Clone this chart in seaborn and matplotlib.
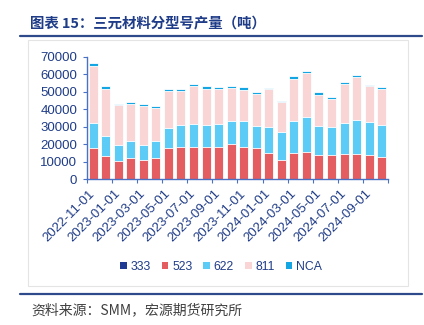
import numpy as np
import pandas as pd
import matplotlib
matplotlib.use("Agg")
import matplotlib.pyplot as plt
import seaborn as sns
from matplotlib.patches import Patch, Rectangle
from matplotlib.lines import Line2D

# Monthly output by cathode type (tonnes), 2022-11 .. 2024-10
months = pd.date_range("2022-11-01", periods=24, freq="MS").strftime("%Y-%m-%d").tolist()
s333 = [0] * 24
s523 = [17800, 13400, 10500, 12400, 10900, 12400, 17900, 18500, 18500, 18500, 18500, 20000,
        18700, 17900, 15300, 11100, 15300, 15800, 13800, 13800, 14500, 14500, 13800, 13000]
s622 = [14600, 11400, 9300, 9700, 8900, 9700, 11600, 12600, 13200, 12600, 13200, 13400,
        14700, 12600, 14500, 16000, 18100, 20000, 16700, 16000, 17600, 19400, 19000, 18100]
s811 = [32400, 27000, 22500, 20800, 21800, 18500, 20800, 19200, 21500, 20700, 20100, 19000,
        17700, 18500, 21500, 17000, 24000, 25000, 17900, 16300, 22600, 24800, 20600, 20700]
sNCA = [1500, 1500, 800, 1500, 1500, 1500, 1500, 1500, 1500, 1500, 800, 1000,
        1500, 900, 900, 900, 1500, 1000, 1500, 1000, 800, 1000, 700, 800]

series_names = ["333", "523", "622", "811", "NCA"]
series_vals = [s333, s523, s622, s811, sNCA]
colors = ["#1F3A93", "#E35D61", "#5CCBF5", "#F9D5D5", "#14A6E3"]

navy = "#1F3C88"
axis_blue = "#4A72C4"

sns.set_theme(style="white")
plt.rcParams["font.family"] = ["Liberation Sans", "Noto Sans CJK SC"]

fig = plt.figure(figsize=(4.24, 3.25), dpi=100)
W, H = 424, 325
ax = fig.add_axes([86.8 / W, 1 - 179.4 / H, (388 - 86.8) / W, (179.4 - 56.7) / H])

# stacked bars: draw cumulative totals from the top layer down
cum = np.cumsum(np.array(series_vals, dtype=float), axis=0)
for i in range(len(series_names) - 1, -1, -1):
    df = pd.DataFrame({"month": months, "value": cum[i]})
    sns.barplot(data=df, x="month", y="value", color=colors[i], width=0.72,
                edgecolor="white", linewidth=0.6, saturation=1, ax=ax, zorder=2)

ax.set_xlim(-0.5, 23.5)
ax.set_ylim(0, 70000)
ax.set_yticks(np.arange(0, 70001, 10000))
ax.set_xlabel("")
ax.set_ylabel("")

for side in ["top", "right"]:
    ax.spines[side].set_visible(False)
for side in ["left", "bottom"]:
    ax.spines[side].set_color(axis_blue)
    ax.spines[side].set_linewidth(1.0)

ax.tick_params(axis="y", direction="out", length=3, width=0.8, color=axis_blue,
               labelsize=9.5, labelcolor=navy, pad=4, left=True)
ax.set_xticks(np.arange(0, 24, 2))
ax.set_xticklabels([months[i] for i in range(0, 24, 2)], rotation=45,
                   ha="right", va="center", rotation_mode="anchor")
ax.set_xticks(np.arange(-0.5, 24, 2), minor=True)
ax.tick_params(axis="x", which="major", length=0, labelsize=9.5, labelcolor=navy, pad=9)
ax.tick_params(axis="x", which="minor", direction="out", length=3, width=0.8,
               color=axis_blue, bottom=True)

handles = [Patch(facecolor=c, edgecolor="none", label=n) for n, c in zip(series_names, colors)]
leg = fig.legend(handles=handles, loc="center", bbox_to_anchor=(221 / W, 1 - 266.7 / H),
                 ncol=5, frameon=False, fontsize=8.8, handlelength=0.55, handleheight=0.55,
                 handletextpad=0.3, columnspacing=0.9, borderpad=0)
for t in leg.get_texts():
    t.set_color(navy)

# chart frame, header and footer
fig.add_artist(Rectangle((28 / W, 1 - 286 / H), (408 - 28) / W, (286 - 40) / H,
                         transform=fig.transFigure, fill=False, ec="#E4E4E4", lw=0.8))
fig.text(30 / W, 1 - 24 / H, "图表 15：三元材料分型号产量（吨）", fontsize=10.4,
         fontweight="bold", color=navy, va="center", ha="left",
         family=["Noto Sans CJK SC", "DejaVu Sans"])
fig.add_artist(Line2D([20 / W, 422 / W], [1 - 36 / H] * 2, color="#2E4A8B", lw=1.6))
fig.add_artist(Line2D([20 / W, 422 / W], [1 - 294.3 / H] * 2, color="#2E4A8B", lw=1.6))
fig.text(31 / W, 1 - 310 / H, "资料来源：SMM，宏源期货研究所", fontsize=10,
         style="italic", color="#404040", va="center", ha="left",
         family=["Noto Sans CJK SC", "DejaVu Sans"])

fig.savefig("out.png", dpi=100)
